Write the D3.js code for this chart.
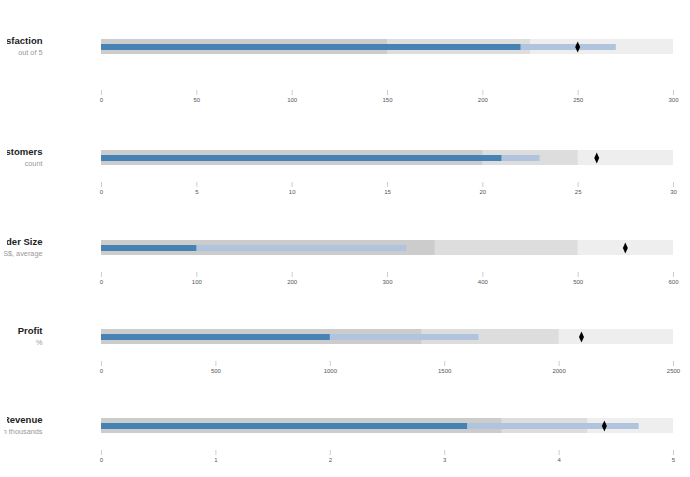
<!DOCTYPE html>
<html>
<head>
<meta charset="utf-8">
<script src="https://cdn.jsdelivr.net/npm/d3@7"></script>
<style>
  body { margin: 0; background: #fff; font-family: "Liberation Sans", Arial, sans-serif; }
  .title { font: bold 9.5px "Liberation Sans", Arial, sans-serif; fill: #222; }
  .subtitle { font-size: 7.3px; fill: #999; }
  .tick line { stroke: #ccc; }
  .tick text { font-size: 6px; fill: #555; }
</style>
</head>
<body>
<div id="chart"></div>
<script>
// row labels (as shown in the picture)
var titles = ["Satisfaction", "New Customers", "Order Size", "Profit", "Revenue"];
var subtitles = ["out of 5", "count", "US$, average", "%", "US$, in thousands"];

// bullet values per row
var ranges = [[150, 225, 300], [20, 25, 30], [350, 500, 600], [1400, 2000, 2500], [3.5, 4.25, 5]];
var measures = [[220, 270], [21, 23], [100, 320], [1000, 1650], [3.2, 4.7]];
var markers = [250, 26, 550, 2100, 4.4];

// axis ticks per row
var tickValues = [
  [0, 50, 100, 150, 200, 250, 300],
  [0, 5, 10, 15, 20, 25, 30],
  [0, 100, 200, 300, 400, 500, 600],
  [0, 500, 1000, 1500, 2000, 2500],
  [0, 1, 2, 3, 4, 5]
];

var svgWidth = 690, svgHeight = 477;
var left = 101, right = 673;
var barHeight = 15, measureHeight = 6;
var rowTop = [39, 150, 240, 329, 418];
var axisGap = [51, 32, 32, 32, 32];

var rangeColors = ["#ccc", "#ddd", "#eee"];
var measureColors = ["#4682b4", "#b0c4de"];

var svg = d3.select("#chart").append("svg")
  .attr("width", svgWidth)
  .attr("height", svgHeight);

// the label column is cut off a little way in from the left edge
svg.append("clipPath")
  .attr("id", "titleClip")
  .append("rect")
  .attr("x", 7)
  .attr("y", -20)
  .attr("width", 80)
  .attr("height", 40);

svg.append("clipPath")
  .attr("id", "subClip")
  .append("rect")
  .attr("x", 4)
  .attr("y", -20)
  .attr("width", 80)
  .attr("height", 60);

titles.forEach(function(title, i) {
  var g = svg.append("g")
    .attr("transform", `translate(0, ${rowTop[i]})`);

  var x = d3.scaleLinear()
    .domain([0, d3.max(ranges[i])])
    .range([left, right]);

  // ranges, largest first so smaller ones sit on top
  var r = ranges[i].map((v, k) => ({v: v, k: k})).sort((a, b) => b.v - a.v);
  g.selectAll("rect.range")
    .data(r)
    .enter()
    .append("rect")
    .attr("class", "range")
    .attr("x", x(0))
    .attr("y", 0)
    .attr("width", d => x(d.v) - x(0))
    .attr("height", barHeight)
    .attr("fill", d => rangeColors[d.k]);

  // measures, largest first
  var m = measures[i].map((v, k) => ({v: v, k: k})).sort((a, b) => b.v - a.v);
  g.selectAll("rect.measure")
    .data(m)
    .enter()
    .append("rect")
    .attr("class", "measure")
    .attr("x", x(0))
    .attr("y", (barHeight - measureHeight) / 2 + 0.5)
    .attr("width", d => x(d.v) - x(0))
    .attr("height", measureHeight)
    .attr("fill", d => measureColors[d.k]);

  // marker: thin diamond
  g.append("path")
    .attr("d", "M0,-5.5L2.5,0L0,5.5L-2.5,0Z")
    .attr("transform", `translate(${x(markers[i])}, ${barHeight / 2 + 0.5})`)
    .attr("fill", "#000");

  // axis
  var axis = d3.axisBottom(x)
    .tickValues(tickValues[i])
    .tickFormat(d3.format(""))
    .tickSize(5)
    .tickPadding(3);

  g.append("g")
    .attr("transform", `translate(0, ${axisGap[i]})`)
    .call(axis)
    .call(a => a.select(".domain").remove());

  // labels
  g.append("text")
    .attr("class", "title")
    .attr("x", 42.5)
    .attr("y", 5)
    .attr("text-anchor", "end")
    .attr("clip-path", "url(#titleClip)")
    .text(title);

  g.append("text")
    .attr("class", "subtitle")
    .attr("x", 42.5)
    .attr("y", 16)
    .attr("text-anchor", "end")
    .attr("clip-path", "url(#subClip)")
    .text(subtitles[i]);
});
</script>
</body>
</html>
